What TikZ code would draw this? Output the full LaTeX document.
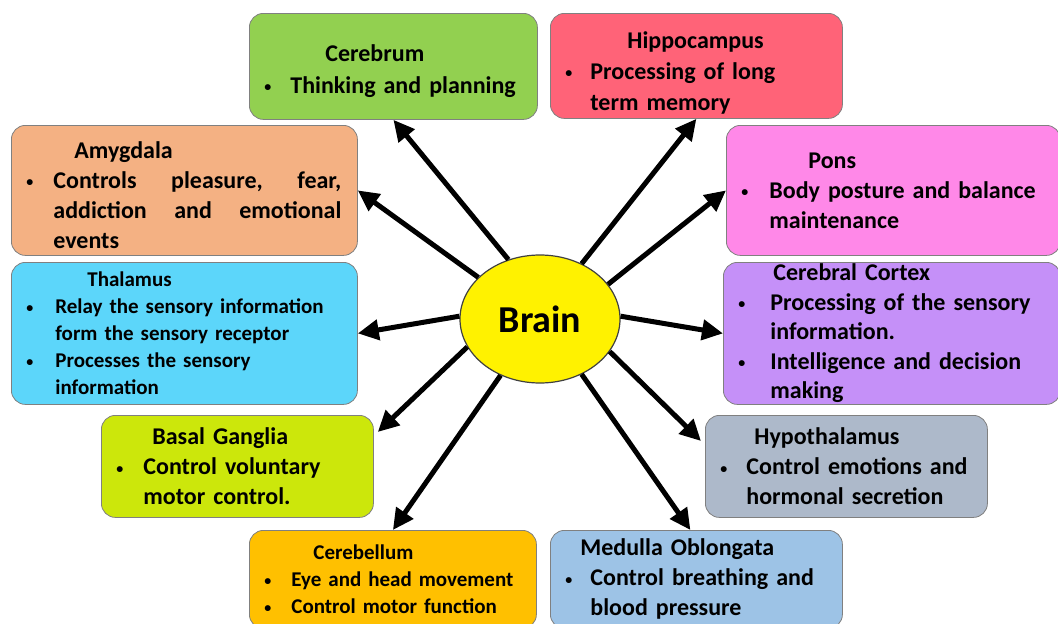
\documentclass[tikz,border=0pt]{standalone}
\usepackage{fontspec}
\setmainfont{Carlito}
\usetikzlibrary{shapes.geometric,arrows.meta}
\definecolor{cerebrumc}{HTML}{92D050}
\definecolor{hippoc}{HTML}{FF6378}
\definecolor{amygc}{HTML}{F4B183}
\definecolor{ponsc}{HTML}{FF88E8}
\definecolor{thalc}{HTML}{5CD6FA}
\definecolor{cortexc}{HTML}{C590F8}
\definecolor{basalc}{HTML}{CCE70B}
\definecolor{hypoc}{HTML}{ADB9CA}
\definecolor{cerebelc}{HTML}{FFC000}
\definecolor{medullac}{HTML}{9DC3E6}
\newcommand\bul[1]{\leavevmode\rlap{\hspace*{15pt}\raisebox{1.5pt}{\fontsize{14}{14}\selectfont\textbullet}}\hspace*{#1pt}}
\newcommand\ind[1]{\leavevmode\hspace*{#1pt}}
\newcommand\lift[1]{\rule{0pt}{#1pt}}
\begin{document}
\begin{tikzpicture}[x=1pt,y=-1pt,
	part/.style n args={3}{draw=black!50,line width=0.8pt,rounded corners=14pt,anchor=north west,
		inner sep=0,align=left,fill=#1,text width=#2pt,minimum height=#3pt,
		font=\bfseries\fontsize{24}{30}\selectfont},
	small/.style={font=\bfseries\fontsize{21}{27}\selectfont},
	link/.style={line width=5pt,-{Triangle[length=21pt,width=20pt]}}]
\useasboundingbox (0,0) rectangle (1058,624);
\clip (0,0) rectangle (1058,624);
\node[part={cerebrumc}{288}{106},font=\bfseries\fontsize{24}{32}\selectfont] (cerebrum) at (249,13)
	{\lift{26}\ind{76}Cerebrum\\ \bul{41}Thinking and planning};
\node[part={hippoc}{292}{105},font=\bfseries\fontsize{24}{31}\selectfont] (hippocampus) at (550,13)
	{\lift{30}\ind{77}Hippocampus\\ \bul{40}Processing of long\\ \ind{40}term memory};
\node[part={amygc}{346}{130}] (amygdala) at (11,125)
	{\lift{26}\ind{63}Amygdala\\ \bul{42}\hbox to 288pt{Controls\hfil pleasure,\hfil fear,}\\
	\ind{42}\hbox to 288pt{addiction\hfil and\hfil emotional}\\ \ind{42}events};
\node[part={ponsc}{334}{130}] (pons) at (726,125)
	{\ind{82}Pons\\ \bul{43}Body posture and balance\\ \ind{43}maintenance};
\node[part={thalc}{346}{142},small] (thalamus) at (11,262)
	{\ind{76}Thalamus\\ \bul{44}Relay the sensory information\\ \ind{44}form the sensory receptor\\
	\bul{44}Processes the sensory\\ \ind{44}information};
\node[part={cortexc}{337}{142},font=\bfseries\fontsize{24}{29.5}\selectfont] (cortex) at (723,262)
	{\ind{50}Cerebral Cortex\\ \bul{47}Processing of the sensory\\ \ind{47}information.\\
	\bul{47}Intelligence and decision\\ \ind{47}making};
\node[part={basalc}{272}{102}] (basal) at (101,415)
	{\ind{51}Basal Ganglia\\ \bul{42}Control voluntary\\ \ind{42}motor control.};
\node[part={hypoc}{282}{102}] (hypothalamus) at (705,415)
	{\ind{49}Hypothalamus\\ \bul{41}Control emotions and\\ \ind{41}hormonal secretion};
\node[part={cerebelc}{287}{98},small] (cerebellum) at (249,530)
	{\ind{64}Cerebellum\\ \bul{42}Eye and head movement\\ \bul{42}Control motor function};
\node[part={medullac}{292}{98}] (medulla) at (550,530)
	{\ind{30}Medulla Oblongata\\ \bul{40}Control breathing and\\ \ind{40}blood pressure};
\node[ellipse,draw=black!75,line width=1.2pt,fill=yellow,minimum width=160pt,minimum height=128pt,
	font=\bfseries\fontsize{38}{40}\selectfont] (brain) at (540,319) {Brain};
\draw[link] (brain.118) -- (cerebrum.south);
\draw[link] (brain.146) -- (amygdala.east);
\draw[link] (brain.178) -- (thalamus.east);
\draw[link] (brain.201) -- ([shift={(4,17)}]basal.north east);
\draw[link] (brain.235) -- (cerebellum.north);
\draw[link] (brain.53) -- (hippocampus.south);
\draw[link] (brain.27) -- (pons.west);
\draw[link] (brain.2) -- (cortex.west);
\draw[link] (brain.335) -- ([shift={(-4,26)}]hypothalamus.north west);
\draw[link] (brain.307) -- ([shift={(-6,0)}]medulla.north);
\end{tikzpicture}
\end{document}
